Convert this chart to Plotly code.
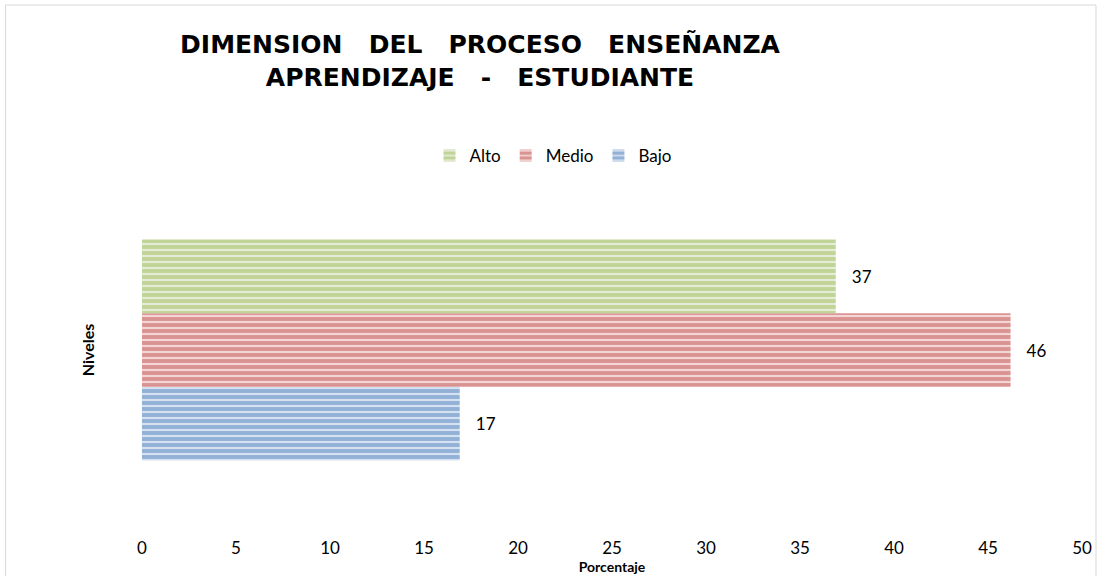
import plotly.graph_objects as go

# ---- data ----
series_names = ["Alto", "Medio", "Bajo"]
series_values = [36.9, 46.2, 16.9]
series_labels = ["37", "46", "17"]
category = ["Niveles"]
x_tick_values = [0, 5, 10, 15, 20, 25, 30, 35, 40, 45, 50]

fg_colors = {"Alto": "#9BBB59", "Medio": "#C0504D", "Bajo": "#4F81BD"}
bg_colors = {"Alto": "#E4ECD6", "Medio": "#F3D6D5", "Bajo": "#D5E0F0"}

FONT = "Lato"
W, H = 1097, 576
L, R, T, B = 141.5, 15, 160, 36

fig = go.Figure()
# add bottom-to-top so that Alto is drawn on top
for name, val, lab in reversed(list(zip(series_names, series_values, series_labels))):
    fig.add_trace(go.Bar(
        name=name,
        y=category,
        x=[val],
        orientation="h",
        text=["\u00a0\u00a0\u00a0" + lab],
        texttemplate="%{text}",
        textposition="outside",
        textfont=dict(family=FONT, size=17, color="#000000"),
        cliponaxis=False,
        marker=dict(
            color=bg_colors[name],
            line=dict(width=0),
            pattern=dict(shape="-", fgcolor=fg_colors[name], bgcolor=bg_colors[name],
                         fillmode="overlay", size=6, solidity=0.65),
        ),
    ))

pw = W - L - R
ph = H - T - B
def px_x(p):
    return (p - L) / pw
def px_y(p):
    return (H - B - p) / ph

fig.update_layout(
    width=W, height=H,
    margin=dict(l=L, r=R, t=T, b=B, autoexpand=False),
    paper_bgcolor="white",
    plot_bgcolor="white",
    barmode="group",
    bargap=0.418,
    bargroupgap=0,
    font=dict(family=FONT, size=17, color="#000000"),
    title=dict(
        text="DIMENSION   DEL   PROCESO   ENSEÑANZA<br>APRENDIZAJE   -   ESTUDIANTE",
        x=480 / W, xref="container", xanchor="center",
        y=1 - 53 / H, yref="container", yanchor="top",
        font=dict(family="DejaVu Sans", size=25, color="#000000", weight="bold"),
    ),
    showlegend=True,
    legend=dict(
        orientation="h",
        traceorder="reversed",
        x=553 / W, xref="container", xanchor="center",
        y=1 - 156 / H, yref="container", yanchor="middle",
        font=dict(family=FONT, size=17),
        itemwidth=30,
    ),
    xaxis=dict(
        range=[0, 50],
        tickvals=x_tick_values,
        automargin=False,
        showgrid=False, zeroline=False, showline=False,
        ticks="", ticklabelstandoff=-4,
        tickfont=dict(family=FONT, size=17),
        title=dict(text="Porcentaje", standoff=3,
                   font=dict(family=FONT, size=14, weight="bold")),
    ),
    yaxis=dict(
        automargin=False,
        showticklabels=False,
        showgrid=False, zeroline=False, showline=False, ticks="",
        title=dict(text="Niveles", standoff=42,
                   font=dict(family=FONT, size=16, weight="bold")),
    ),
    shapes=[dict(
        type="rect", xref="paper", yref="paper",
        x0=px_x(5), x1=px_x(1096), y0=px_y(590), y1=px_y(5),
        line=dict(color="#D9D9D9", width=1), fillcolor="rgba(0,0,0,0)", layer="below",
    )],
)

fig.write_html(
    "out.html",
    config={"displayModeBar": False},
    post_script="document.body.style.margin='0';document.body.style.overflow='hidden';",
)
